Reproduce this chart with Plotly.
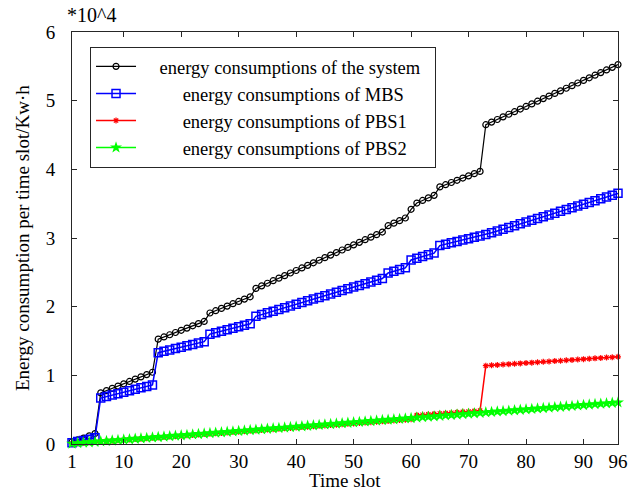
import plotly.graph_objects as go

time_slot = list(range(1, 97))

pbs2 = [0.006, 0.013, 0.019, 0.025, 0.032, 0.038, 0.044, 0.050, 0.057, 0.063,
        0.069, 0.076, 0.082, 0.088, 0.095, 0.101, 0.107, 0.113, 0.120, 0.126,
        0.132, 0.139, 0.145, 0.151, 0.158, 0.164, 0.170, 0.176, 0.183, 0.189,
        0.195, 0.202, 0.208, 0.214, 0.221, 0.227, 0.233, 0.239, 0.246, 0.252,
        0.258, 0.265, 0.271, 0.277, 0.284, 0.290, 0.296, 0.302, 0.309, 0.315,
        0.321, 0.328, 0.334, 0.340, 0.347, 0.353, 0.359, 0.365, 0.372, 0.378,
        0.384, 0.391, 0.397, 0.403, 0.410, 0.416, 0.422, 0.428, 0.435, 0.441,
        0.447, 0.454, 0.460, 0.466, 0.473, 0.479, 0.485, 0.491, 0.498, 0.504,
        0.510, 0.517, 0.523, 0.529, 0.536, 0.542, 0.548, 0.554, 0.561, 0.567,
        0.573, 0.580, 0.586, 0.592, 0.599, 0.605]

pbs1 = [0.006, 0.012, 0.018, 0.024, 0.030, 0.036, 0.042, 0.048, 0.054, 0.060,
        0.066, 0.072, 0.078, 0.084, 0.090, 0.096, 0.102, 0.108, 0.114, 0.120,
        0.126, 0.132, 0.138, 0.144, 0.150, 0.156, 0.162, 0.168, 0.174, 0.180,
        0.186, 0.192, 0.198, 0.204, 0.210, 0.216, 0.222, 0.228, 0.234, 0.240,
        0.246, 0.252, 0.258, 0.264, 0.270, 0.276, 0.282, 0.288, 0.294, 0.300,
        0.306, 0.312, 0.318, 0.324, 0.330, 0.336, 0.342, 0.348, 0.354, 0.360,
        0.420, 0.426, 0.432, 0.438, 0.444, 0.450, 0.456, 0.462, 0.468, 0.474,
        0.480, 0.486, 1.140, 1.146, 1.151, 1.157, 1.163, 1.168, 1.174, 1.180,
        1.185, 1.191, 1.197, 1.202, 1.208, 1.213, 1.219, 1.225, 1.230, 1.236,
        1.242, 1.247, 1.253, 1.259, 1.264, 1.270]

mbs = [0.020, 0.035, 0.050, 0.070, 0.090, 0.670, 0.691, 0.712, 0.733, 0.754,
       0.776, 0.797, 0.818, 0.839, 0.860, 1.330, 1.350, 1.370, 1.390, 1.410,
       1.430, 1.450, 1.470, 1.490, 1.600, 1.621, 1.643, 1.664, 1.686, 1.707,
       1.729, 1.750, 1.860, 1.885, 1.910, 1.935, 1.960, 1.985, 2.010, 2.035,
       2.060, 2.085, 2.110, 2.135, 2.160, 2.185, 2.210, 2.235, 2.260, 2.285,
       2.310, 2.335, 2.360, 2.385, 2.410, 2.490, 2.515, 2.540, 2.565, 2.680,
       2.705, 2.730, 2.755, 2.780, 2.890, 2.910, 2.930, 2.950, 2.970, 2.990,
       3.010, 3.030, 3.050, 3.076, 3.102, 3.128, 3.154, 3.180, 3.206, 3.232,
       3.258, 3.284, 3.310, 3.336, 3.362, 3.388, 3.414, 3.440, 3.466, 3.492,
       3.518, 3.544, 3.570, 3.596, 3.622, 3.650]

system = [0.032, 0.060, 0.087, 0.119, 0.152, 0.744, 0.777, 0.810, 0.844, 0.877,
          0.911, 0.945, 0.978, 1.011, 1.045, 1.527, 1.559, 1.591, 1.624, 1.656,
          1.688, 1.721, 1.753, 1.785, 1.908, 1.941, 1.975, 2.008, 2.043, 2.076,
          2.110, 2.144, 2.266, 2.303, 2.341, 2.378, 2.415, 2.452, 2.490, 2.527,
          2.564, 2.602, 2.639, 2.676, 2.714, 2.751, 2.788, 2.825, 2.863, 2.900,
          2.937, 2.975, 3.012, 3.049, 3.087, 3.179, 3.216, 3.253, 3.291, 3.418,
          3.509, 3.547, 3.584, 3.621, 3.744, 3.776, 3.808, 3.840, 3.873, 3.905,
          3.937, 3.970, 4.650, 4.688, 4.726, 4.764, 4.802, 4.839, 4.878, 4.916,
          4.953, 4.992, 5.030, 5.067, 5.106, 5.143, 5.181, 5.219, 5.257, 5.295,
          5.333, 5.371, 5.409, 5.447, 5.485, 5.525]

x_tickvals = [1, 10, 20, 30, 40, 50, 60, 70, 80, 90, 96]
y_tickvals = [0, 1, 2, 3, 4, 5, 6]

NB = "\u00a0"
names = [NB * 4 + "energy consumptions of the system" + NB * 2,
         NB * 9 + "energy consumptions of MBS",
         NB * 9 + "energy consumptions of PBS1",
         NB * 9 + "energy consumptions of PBS2"]

FONT = "Liberation Serif, Times New Roman, serif"

fig = go.Figure()
fig.add_trace(go.Scatter(x=time_slot, y=system, mode="lines+markers", name=names[0],
                         line=dict(color="#000000", width=1.2),
                         marker=dict(symbol="circle-open", size=6, color="#000000",
                                     line=dict(width=1.2)),
                         cliponaxis=False))
fig.add_trace(go.Scatter(x=time_slot, y=mbs, mode="lines+markers", name=names[1],
                         line=dict(color="#0000ff", width=1.5),
                         marker=dict(symbol="square-open", size=8, color="#0000ff",
                                     line=dict(width=1.5)),
                         cliponaxis=False))
fig.add_trace(go.Scatter(x=time_slot, y=pbs1, mode="lines+markers", name=names[2],
                         line=dict(color="#ff0000", width=1.5),
                         marker=dict(symbol="asterisk-open", size=5, color="#ff0000",
                                     line=dict(width=1.2, color="#ff0000")),
                         cliponaxis=False))
fig.add_trace(go.Scatter(x=time_slot, y=pbs2, mode="lines+markers", name=names[3],
                         line=dict(color="#00ff00", width=1.5),
                         marker=dict(symbol="star", size=9, color="#00ff00"),
                         cliponaxis=False))

axis_common = dict(showline=True, linecolor="#262626", linewidth=1, mirror="ticks",
                   ticks="inside", ticklen=5, tickcolor="#262626", showgrid=False,
                   zeroline=False, tickfont=dict(family=FONT, size=19, color="#000000"))

fig.update_xaxes(range=[1, 96], tickvals=x_tickvals,
                 ticktext=[str(v) for v in x_tickvals], **axis_common)
fig.update_yaxes(range=[0, 6], tickvals=y_tickvals,
                 ticktext=[str(v) for v in y_tickvals], ticklabelstandoff=12,
                 **axis_common)

fig.update_layout(
    width=640, height=491,
    margin=dict(l=72, r=19, t=32, b=47),
    paper_bgcolor="white", plot_bgcolor="white",
    font=dict(family=FONT, size=18, color="#000000"),
    showlegend=True,
    legend=dict(x=0.033, y=0.964, xanchor="left", yanchor="top",
                bgcolor="white", bordercolor="#262626", borderwidth=1,
                font=dict(family=FONT, size=18.5, color="#000000"),
                itemwidth=40, tracegroupgap=0),
    annotations=[
        dict(text="Time slot", xref="paper", yref="paper", x=0.5, y=0,
             xanchor="center", yanchor="top", yshift=-24, showarrow=False,
             font=dict(family=FONT, size=19)),
        dict(text="Energy consumption per time slot/Kw\u00b7h", xref="paper", yref="paper",
             x=0, y=0.5, xanchor="center", yanchor="middle", xshift=-50, textangle=-90,
             showarrow=False, font=dict(family=FONT, size=19)),
        dict(text="*10^4", xref="paper", yref="paper", x=0, y=1, xanchor="left",
             yanchor="bottom", xshift=-7, yshift=4, showarrow=False,
             font=dict(family=FONT, size=20)),
    ],
)

fig.write_html("out.html")
